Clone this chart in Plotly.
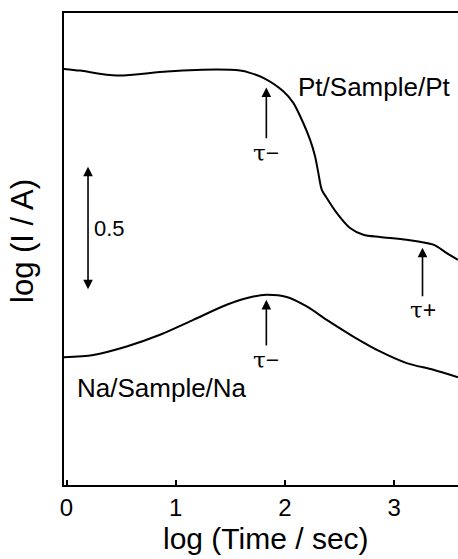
import plotly.graph_objects as go

# ---- data (log Time / sec, log I / A) ----
pt_x = [-0.023, 0.124, 0.462, 0.920, 1.378, 1.589, 1.680, 1.802, 1.985, 2.077, 2.168,
        2.230, 2.276, 2.306, 2.337, 2.383, 2.474, 2.596, 2.718, 2.871, 3.115, 3.359,
        3.482, 3.585]
pt_y = [-5.324, -5.331, -5.351, -5.335, -5.327, -5.331, -5.340, -5.360, -5.414, -5.461,
        -5.542, -5.609, -5.676, -5.743, -5.810, -5.844, -5.904, -5.965, -5.992, -6.001,
        -6.012, -6.032, -6.066, -6.093]

na_x = [-0.023, 0.245, 0.551, 0.856, 1.161, 1.467, 1.711, 1.833, 2.016, 2.200, 2.383,
        2.626, 2.871, 3.115, 3.359, 3.585]
na_y = [-6.485, -6.476, -6.442, -6.395, -6.335, -6.274, -6.241, -6.234, -6.243, -6.281,
        -6.335, -6.402, -6.462, -6.509, -6.536, -6.566]

x_ticks = [0, 1, 2, 3]
x_range = [-0.023, 3.585]
y_range = [-7.0, -5.099]

x_title = "log (Time / sec)"
y_title = "log (I / A)"

# characteristic times (arrows): x, head y, tail y, label
tau_x = [1.83, 1.83, 3.26]
tau_head = [-5.399, -6.254, -6.044]
tau_tail = [-5.609, -6.444, -6.246]
tau_label = ["τ−", "τ−", "τ+"]
tau_label_y = [-5.661, -6.496, -6.294]

scale_x = 0.197
scale_bottom = -6.218
scale_len = 0.5

FONT = "Liberation Sans, Arial, Helvetica, sans-serif"
SERIF = "DejaVu Serif, Liberation Serif, serif"

fig = go.Figure()
fig.add_trace(go.Scatter(x=pt_x, y=pt_y, mode="lines", line=dict(color="black", width=2),
                         line_shape="spline", line_smoothing=0.8,
                         showlegend=False, hoverinfo="skip"))
fig.add_trace(go.Scatter(x=na_x, y=na_y, mode="lines", line=dict(color="black", width=2),
                         line_shape="spline", line_smoothing=0.8,
                         showlegend=False, hoverinfo="skip"))

ann = []
for xx, h, t, lab, ly in zip(tau_x, tau_head, tau_tail, tau_label, tau_label_y):
    ann.append(dict(x=xx, y=h, ax=xx, ay=t, xref="x", yref="y", axref="x", ayref="y",
                    text="", showarrow=True, arrowhead=2, arrowsize=1.2, arrowwidth=1.6,
                    arrowcolor="black", standoff=0, startstandoff=0))
    ann.append(dict(x=xx, y=ly, xref="x", yref="y",
                    text=lab[0] + "<span style='font-family:Liberation Sans'>" + lab[1] + "</span>",
                    showarrow=False,
                    font=dict(family=SERIF, size=23, color="black")))

# scale bar (double arrow)
ann.append(dict(x=scale_x, y=scale_bottom + scale_len, ax=scale_x, ay=scale_bottom,
                xref="x", yref="y", axref="x", ayref="y", text="", showarrow=True,
                arrowhead=2, startarrowhead=2, arrowside="end+start", arrowsize=1.2,
                startarrowsize=1.2, arrowwidth=1.6, arrowcolor="black", standoff=0,
                startstandoff=0))
ann.append(dict(x=scale_x + 0.04, y=scale_bottom + scale_len / 2, xref="x", yref="y",
                text=str(scale_len), showarrow=False, xanchor="left",
                font=dict(family=FONT, size=22, color="black")))

ann.append(dict(x=2.82, y=-5.397, xref="x", yref="y", text="Pt/Sample/Pt", showarrow=False,
                font=dict(family=FONT, size=26, color="black")))
ann.append(dict(x=0.875, y=-6.609, xref="x", yref="y", text="Na/Sample/Na", showarrow=False,
                font=dict(family=FONT, size=26, color="black")))

# axis titles
ann.append(dict(x=0.513, y=-0.113, xref="paper", yref="paper", text=x_title, showarrow=False,
                xanchor="center", yanchor="middle",
                font=dict(family=FONT, size=30, color="black")))
ann.append(dict(x=-0.104, y=0.517, xref="paper", yref="paper", text=y_title, showarrow=False,
                textangle=-90, xanchor="center", yanchor="middle",
                font=dict(family=FONT, size=31, color="black")))

fig.update_layout(
    width=458, height=559,
    margin=dict(l=64, r=0, t=13, b=74),
    paper_bgcolor="white", plot_bgcolor="white",
    font=dict(family=FONT, color="black"),
    annotations=ann,
    xaxis=dict(range=x_range, tickvals=x_ticks, ticktext=[str(v) for v in x_ticks],
               ticks="inside", ticklen=5, tickwidth=1.5, tickcolor="black",
               showline=True, linecolor="black", linewidth=2, mirror=True,
               showgrid=False, zeroline=False,
               tickfont=dict(size=24, family=FONT, color="black")),
    yaxis=dict(range=y_range, showticklabels=False, ticks="",
               showline=True, linecolor="black", linewidth=2, mirror=False,
               showgrid=False, zeroline=False),
)

fig.write_html("out.html")
